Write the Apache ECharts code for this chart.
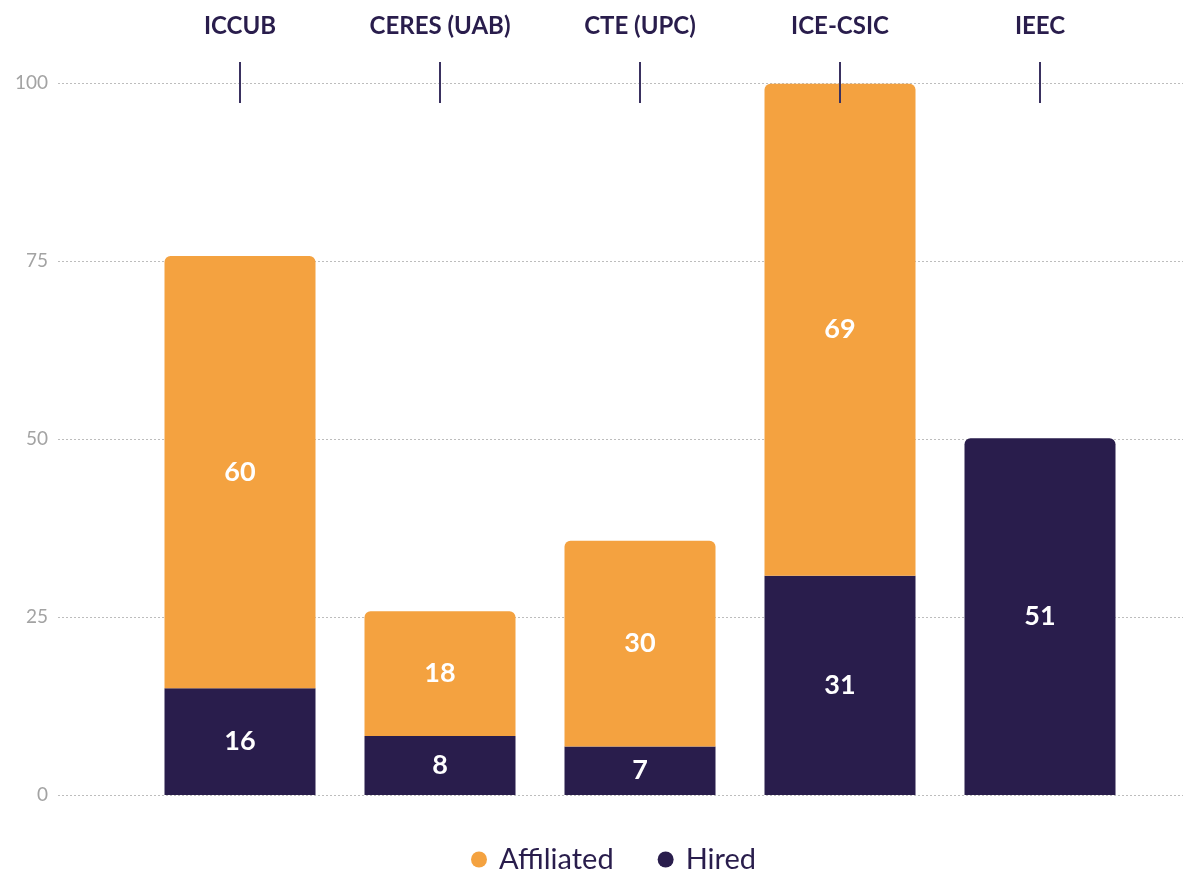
<!DOCTYPE html>
<html>
<head>
<meta charset="utf-8">
<script src="https://cdn.jsdelivr.net/npm/echarts@6/dist/echarts.min.js"></script>
<style>
  html, body { margin: 0; padding: 0; background: #fff; }
  #main { width: 1183px; height: 873px; }
</style>
</head>
<body>
<div id="main"></div>
<script>
// Data
let categories = ["ICCUB", "CERES (UAB)", "CTE (UPC)", "ICE-CSIC", "IEEC"];
// bar heights
let hired = [15, 8.3, 6.8, 30.8, 50.1];
let affiliated = [60.7, 17.5, 28.9, 69.1, 0];
// numbers printed on the bars
let hiredLabels = ["16", "8", "7", "31", "51"];
let affiliatedLabels = ["60", "18", "30", "69", ""];
let yTicks = [0, 25, 50, 75, 100];

let colors = {
  Affiliated: "#f4a240",
  Hired: "#291d4c",
  tick: "#3a3160",
  axis: "#a3a3a3",
  grid: "#bdbdbd",
};

let font = "Lato, 'Source Sans Pro', 'Noto Sans', sans-serif";

let myChart = echarts.init(document.getElementById("main"));

// top segment of each bar gets the rounded corners
let hiredData = hired.map((v, i) => ({
  value: v,
  itemStyle: { borderRadius: affiliated[i] > 0 ? 0 : [6, 6, 0, 0] },
}));

let barLabel = (texts) => ({
  show: true,
  position: "inside",
  color: "#fff",
  fontFamily: font,
  fontWeight: "bold",
  fontSize: 27,
  formatter: (p) => texts[p.dataIndex],
});

let option = {
  animation: false,
  textStyle: { fontFamily: font },
  grid: [
    { left: 140, right: 43, top: 83, bottom: 78 },
    { left: 58, right: 0, top: 83, bottom: 78 },
  ],
  legend: {
    data: ["Affiliated", "Hired"],
    left: 466,
    top: 840,
    icon: "circle",
    itemWidth: 16,
    itemHeight: 16,
    itemGap: 44,
    textStyle: {
      fontSize: 29,
      color: colors.Hired,
      fontFamily: font,
      padding: [0, 0, 0, 7],
    },
  },
  xAxis: [
    {
      type: "category",
      gridIndex: 0,
      data: categories,
      position: "top",
      offset: -20,
      z: 10,
      axisLine: {
        show: true,
        onZero: false,
        lineStyle: { color: "rgba(0,0,0,0)", width: 0 },
      },
      axisTick: {
        show: true,
        alignWithLabel: true,
        length: 41,
        lineStyle: { color: colors.tick, width: 2 },
      },
      axisLabel: {
        margin: 65,
        color: colors.Hired,
        fontWeight: "bold",
        fontSize: 24,
        fontFamily: font,
      },
    },
    { type: "value", gridIndex: 1, show: false, min: 0, max: 1 },
  ],
  yAxis: [
    { type: "value", gridIndex: 0, min: 0, max: 100, show: false },
    {
      type: "value",
      gridIndex: 1,
      min: yTicks[0],
      max: yTicks[yTicks.length - 1],
      interval: 25,
      axisLine: { show: false },
      axisTick: { show: false },
      axisLabel: {
        margin: 10,
        color: colors.axis,
        fontSize: 19,
        fontFamily: font,
      },
      splitLine: {
        lineStyle: { color: colors.grid, type: [2, 2], width: 1 },
      },
    },
  ],
  series: [
    {
      name: "Hired",
      type: "bar",
      stack: "total",
      xAxisIndex: 0,
      yAxisIndex: 0,
      barWidth: 151,
      data: hiredData,
      itemStyle: { color: colors.Hired },
      label: barLabel(hiredLabels),
    },
    {
      name: "Affiliated",
      type: "bar",
      stack: "total",
      xAxisIndex: 0,
      yAxisIndex: 0,
      barWidth: 151,
      data: affiliated,
      itemStyle: { color: colors.Affiliated, borderRadius: [6, 6, 0, 0] },
      label: barLabel(affiliatedLabels),
    },
  ],
};

myChart.setOption(option);
window.addEventListener("resize", function () {
  myChart.resize();
});
</script>
</body>
</html>
